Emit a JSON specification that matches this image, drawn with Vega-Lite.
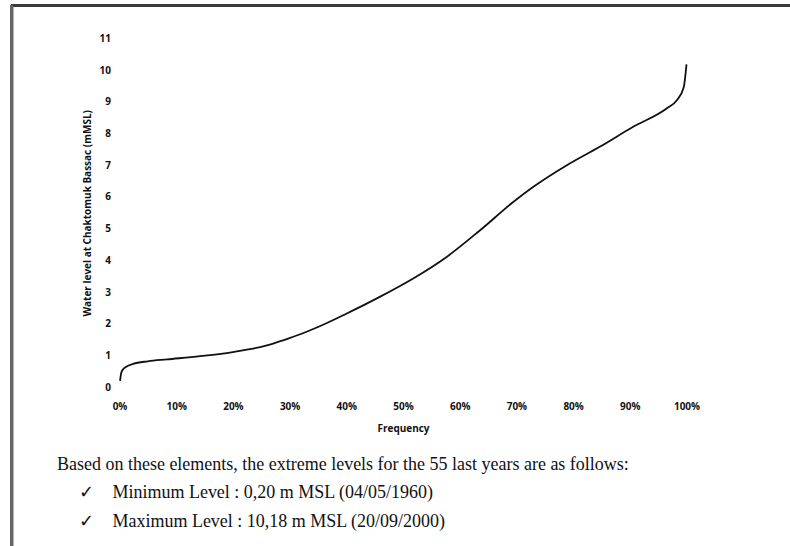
{
  "$schema": "https://vega.github.io/schema/vega-lite/v6.json",
  "autosize": {"type": "none"},
  "padding": {"left": 119.5, "top": 38.3, "right": 103.5, "bottom": 159},
  "width": 567,
  "height": 349,
  "background": "white",
  "title": {
    "text": [
      "Based on these elements, the extreme levels for the 55 last years are as follows:",
      "\u200b\u00a0\u00a0\u00a0\u00a0\u00a0✓\u00a0\u00a0\u00a0\u00a0Minimum Level : 0,20 m MSL (04/05/1960)",
      "\u200b\u00a0\u00a0\u00a0\u00a0\u00a0✓\u00a0\u00a0\u00a0\u00a0Maximum Level : 10,18 m MSL (20/09/2000)"
    ],
    "orient": "bottom",
    "anchor": "start",
    "frame": "group",
    "dx": -62.5,
    "dy": -98,
    "offset": 0,
    "font": "Liberation Serif",
    "fontSize": 18,
    "fontWeight": "normal",
    "lineHeight": 28.5,
    "color": "#111"
  },
  "config": {
    "view": {"stroke": null},
    "axis": {
      "grid": false,
      "domain": false,
      "ticks": false,
      "labelFlush": false,
      "labelOverlap": false,
      "labelSeparation": -100,
      "labelFont": "Open Sans",
      "labelFontSize": 10,
      "labelFontWeight": 700,
      "labelColor": "#111",
      "titleFont": "Open Sans",
      "titleFontSize": 10,
      "titleFontWeight": 700,
      "titleColor": "#111"
    },
    "axisY": {"labelOverlap": false, "labelSeparation": -100, "labelBound": false}
  },
  "resolve": {"axis": {"x": "independent", "y": "independent"}},
  "data": {
    "values": [
      {"frequency": 0.001, "level": 0.20},
      {"frequency": 0.003, "level": 0.45},
      {"frequency": 0.006, "level": 0.56},
      {"frequency": 0.012, "level": 0.65},
      {"frequency": 0.024, "level": 0.74},
      {"frequency": 0.05, "level": 0.82},
      {"frequency": 0.084, "level": 0.88},
      {"frequency": 0.142, "level": 0.98},
      {"frequency": 0.20, "level": 1.11},
      {"frequency": 0.23, "level": 1.20},
      {"frequency": 0.26, "level": 1.32},
      {"frequency": 0.29, "level": 1.49},
      {"frequency": 0.32, "level": 1.68},
      {"frequency": 0.35, "level": 1.90},
      {"frequency": 0.40, "level": 2.32},
      {"frequency": 0.459, "level": 2.85},
      {"frequency": 0.518, "level": 3.43},
      {"frequency": 0.577, "level": 4.11},
      {"frequency": 0.636, "level": 4.95},
      {"frequency": 0.695, "level": 5.85},
      {"frequency": 0.73, "level": 6.32},
      {"frequency": 0.789, "level": 7.0},
      {"frequency": 0.847, "level": 7.58},
      {"frequency": 0.906, "level": 8.21},
      {"frequency": 0.965, "level": 8.79},
      {"frequency": 0.983, "level": 9.05},
      {"frequency": 0.995, "level": 9.45},
      {"frequency": 1.0, "level": 10.18}
    ]
  },
  "layer": [
    {
      "mark": {"type": "line", "color": "#111", "strokeWidth": 1.8, "interpolate": "monotone"},
      "encoding": {
        "x": {
          "field": "frequency",
          "type": "quantitative",
          "scale": {"domain": [0, 1], "nice": false},
          "axis": {"format": ".0%", "values": [0, 0.1, 0.2, 0.3, 0.4, 0.5, 0.6, 0.7, 0.8, 0.9, 1], "labelOverlap": false, "labelPadding": 14, "titlePadding": 12, "title": "Frequency"}
        },
        "y": {
          "field": "level",
          "type": "quantitative",
          "scale": {"domain": [0, 11], "nice": false},
          "axis": {"values": [0, 1, 2, 3, 4, 5, 6, 7, 8, 9, 10, 11], "format": "d", "labelOverlap": false, "labelSeparation": -100, "labelPadding": 9, "titlePadding": 7, "title": "Water level at Chaktomuk Bassac (mMSL)"}
        }
      }
    },
    {
      "mark": {"type": "rule", "color": "#3a3a3a", "strokeWidth": 3, "clip": false},
      "encoding": {
        "x": {"datum": -0.19, "axis": null},
        "x2": {"datum": 1.2},
        "y": {"datum": 12.03, "axis": null}
      }
    },
    {
      "mark": {"type": "rule", "color": "#666", "strokeWidth": 2.5, "clip": false},
      "encoding": {
        "x": {"datum": -0.19, "axis": null},
        "y": {"datum": 12.03, "axis": null},
        "y2": {"datum": -5.2}
      }
    }
  ]
}
